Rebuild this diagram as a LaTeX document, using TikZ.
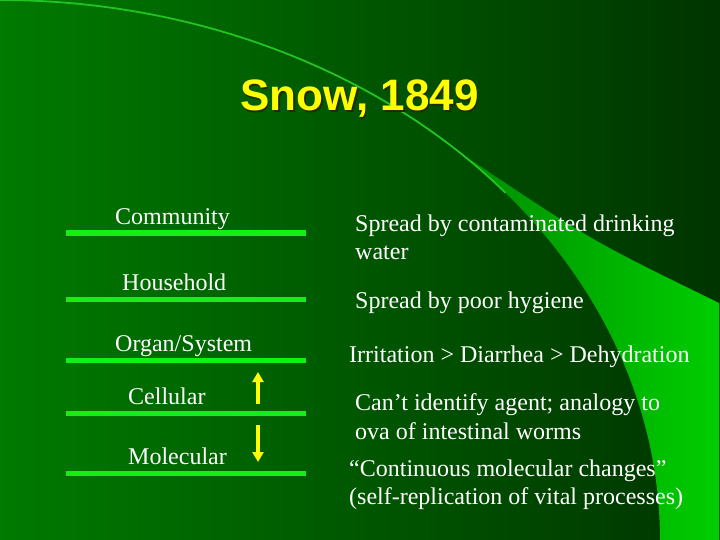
\documentclass[tikz,border=0pt]{standalone}
\usepackage{fontspec}
\setmainfont{Liberation Serif}
\newfontfamily\titlefont{Liberation Sans}
\usetikzlibrary{arrows.meta}
\definecolor{bgL}{RGB}{0,122,0}
\definecolor{bgR}{RGB}{0,52,0}
\definecolor{wedgeL}{RGB}{0,140,0}
\definecolor{wedgeR}{RGB}{0,205,0}
\definecolor{arcline}{RGB}{34,195,34}
\definecolor{levelline}{RGB}{20,240,20}
\definecolor{ttlyellow}{RGB}{255,255,0}
\definecolor{ttlshadow}{RGB}{30,45,0}
\tikzset{
  levelbar/.style={draw=levelline, line width=5pt},
  lvltext/.style={anchor=base west, inner sep=0pt, text=white, font=\fontsize{24}{29}\selectfont},
  rtext/.style={anchor=base west, inner sep=0pt, text=white, font=\fontsize{24}{29}\selectfont},
  ttl/.style={anchor=base, inner sep=0pt, font=\titlefont\bfseries\fontsize{44}{52}\selectfont},
  yarrow/.style={draw=ttlyellow, line width=4pt, -{Triangle[width=11pt,length=10pt]}}
}
\begin{document}
\begin{tikzpicture}[x=1pt,y=-1pt]
\useasboundingbox (0,0) rectangle (720,540);
% background
\shade[left color=bgL, right color=bgR] (0,0) rectangle (720,540);
% bright wedge
\shade[left color=wedgeL, right color=wedgeR]
  plot[domain=46:0, samples=60] ({660*cos(\x)},{540-540*sin(\x)})
  -- (719,540) -- (719,303) .. controls (590,240) .. (458.5,151.6) -- cycle;
% thin arc
\draw[arcline, line width=1.8pt] plot[domain=90:40, samples=80] ({660*cos(\x)},{540-540*sin(\x)});
% title
\node[ttl, text=ttlshadow] (titleshadow) at (361,112.5) {Snow, 1849};
\node[ttl, text=ttlyellow] (title) at (359.5,111) {Snow, 1849};
% level bars
\foreach \yy/\nm in {233/b1,299/b2,360/b3,413/b4,473/b5}{
  \coordinate (\nm L) at (66,\yy);
  \coordinate (\nm R) at (306,\yy);
  \draw[levelbar] (\nm L) -- (\nm R);
}
% level labels
\node[lvltext] (community) at (115,225) {Community};
\node[lvltext] (household) at (122,290) {Household};
\node[lvltext] (organ) at (115,351) {Organ/System};
\node[lvltext] (cellular) at (128,404) {Cellular};
\node[lvltext] (molecular) at (128,464) {Molecular};
% arrows
\coordinate (upS) at (258,404);
\coordinate (upE) at (258,372);
\coordinate (dnS) at (258,425);
\coordinate (dnE) at (258,462);
\draw[yarrow] (upS) -- (upE);
\draw[yarrow] (dnS) -- (dnE);
% right texts
\node[rtext] (t1a) at (355,231) {Spread by contaminated drinking};
\node[rtext] (t1b) at (355,259) {water};
\node[rtext] (t2) at (355,308) {Spread by poor hygiene};
\node[rtext] (t3) at (349,362) {Irritation > Diarrhea > Dehydration};
\node[rtext] (t4a) at (355,410) {Can’t identify agent; analogy to};
\node[rtext] (t4b) at (355,439) {ova of intestinal worms};
\node[rtext] (t5a) at (349,476) {“Continuous molecular changes”};
\node[rtext] (t5b) at (349,504) {(self-replication of vital processes)};
\end{tikzpicture}
\end{document}
